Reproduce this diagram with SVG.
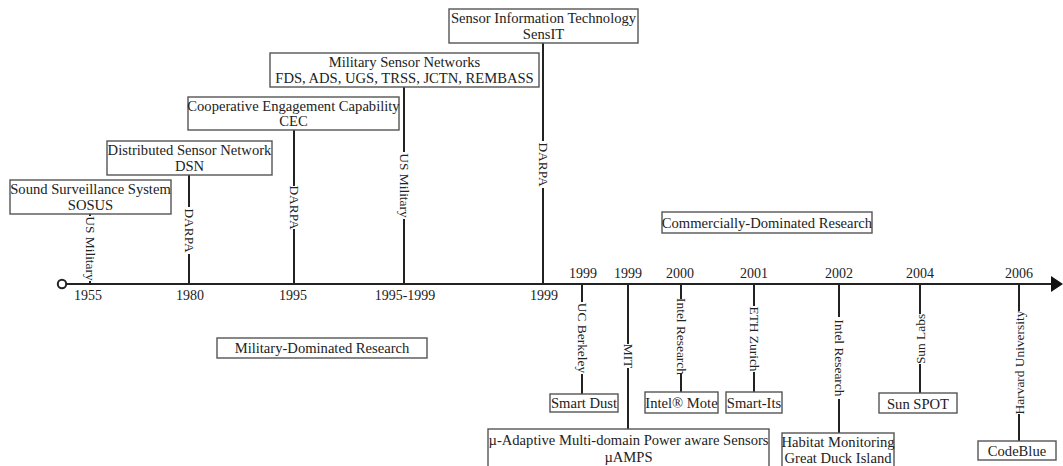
<svg xmlns="http://www.w3.org/2000/svg" width="1063" height="466" viewBox="0 0 1063 466">
<style>
.bx{fill:#fff;stroke:#555;stroke-width:1.4}
.t{font-family:"Liberation Serif","Times New Roman",serif;font-size:14.6px;fill:#222;text-anchor:middle}
.y{font-family:"Liberation Serif","Times New Roman",serif;font-size:14px;fill:#222;text-anchor:middle}
.v{font-family:"Liberation Serif","Times New Roman",serif;font-size:13.4px;fill:#222;text-anchor:middle;dominant-baseline:central}
.ln{stroke:#222;stroke-width:2;fill:none}
</style>
<rect width="1063" height="466" fill="#fff"/>
<g id="connectors">
<line class="ln" x1="66" y1="284" x2="1053" y2="284"/>
<polygon points="1051,276 1063,284 1051,292" fill="#111"/>
<circle cx="62" cy="284" r="4.2" fill="#fff" stroke="#222" stroke-width="2"/>
<path class="ln" d="M90 214V216M90 281V284"/>
<path class="ln" d="M189 175V207M189 254V284"/>
<path class="ln" d="M294 130V186M294 229V284"/>
<path class="ln" d="M404 87V152M404 219V284"/>
<path class="ln" d="M543 43V141M543 188V284"/>
<path class="ln" d="M582 284V302M582 374V394"/>
<path class="ln" d="M628 284V344M628 368V429"/>
<path class="ln" d="M681 284V299M681 374V392"/>
<path class="ln" d="M754 284V306M754 372V392"/>
<path class="ln" d="M839 284V317M839 399V433"/>
<path class="ln" d="M920 284V314M920 364V393"/>
<path class="ln" d="M1019 284V311M1019 414V441"/>
<text class="v" transform="translate(90 248.5) rotate(90)">US Military</text>
<text class="v" transform="translate(189 230.5) rotate(90)">DARPA</text>
<text class="v" transform="translate(294 207.5) rotate(90)">DARPA</text>
<text class="v" transform="translate(404 185.5) rotate(90)">US Military</text>
<text class="v" transform="translate(543 164.5) rotate(90)">DARPA</text>
<text class="v" transform="translate(582 338) rotate(90)">UC Berkeley</text>
<text class="v" transform="translate(628 356) rotate(90)">MIT</text>
<text class="v" transform="translate(681 336.5) rotate(90)">Intel Research</text>
<text class="v" transform="translate(754 339) rotate(90)">ETH Zurich</text>
<text class="v" transform="translate(839 358) rotate(90)">Intel Research</text>
<text class="v" transform="translate(920 339) rotate(-90)">Sun Labs</text>
<text class="v" transform="translate(1019 362.5) rotate(-90)">Harvard University</text>
</g>
<g id="years">
<text class="y" x="88" y="300">1955</text>
<text class="y" x="190" y="300">1980</text>
<text class="y" x="293" y="300">1995</text>
<text class="y" x="405" y="300">1995-1999</text>
<text class="y" x="544" y="300">1999</text>
<text class="y" x="583" y="278">1999</text>
<text class="y" x="628" y="278">1999</text>
<text class="y" x="680" y="278">2000</text>
<text class="y" x="754" y="278">2001</text>
<text class="y" x="839" y="278">2002</text>
<text class="y" x="920" y="278">2004</text>
<text class="y" x="1019" y="278">2006</text>
</g>
<g id="sosus">
<rect class="bx" x="10" y="180" width="161" height="34"/>
<text class="t" x="90.5" y="193.5">Sound Surveillance System</text>
<text class="t" x="90.5" y="209.5">SOSUS</text>
</g>
<g id="dsn">
<rect class="bx" x="107" y="141" width="165" height="34"/>
<text class="t" x="189.5" y="154.5">Distributed Sensor Network</text>
<text class="t" x="189.5" y="170.5">DSN</text>
</g>
<g id="cec">
<rect class="bx" x="188" y="97" width="211" height="33"/>
<text class="t" x="293.5" y="110.5">Cooperative Engagement Capability</text>
<text class="t" x="293.5" y="126">CEC</text>
</g>
<g id="msn">
<rect class="bx" x="270" y="53" width="269" height="34"/>
<text class="t" x="404.5" y="67">Military Sensor Networks</text>
<text class="t" x="404.5" y="83">FDS, ADS, UGS, TRSS, JCTN, REMBASS</text>
</g>
<g id="sensit">
<rect class="bx" x="449" y="9" width="189" height="34"/>
<text class="t" x="543.5" y="22.5">Sensor Information Technology</text>
<text class="t" x="543.5" y="38.5">SensIT</text>
</g>
<g id="military-research">
<rect class="bx" x="217" y="338" width="210" height="20"/>
<text class="t" x="322" y="353">Military-Dominated Research</text>
</g>
<g id="commercial-research">
<rect class="bx" x="662" y="212" width="210" height="21"/>
<text class="t" x="767" y="227.5">Commercially-Dominated Research</text>
</g>
<g id="smart-dust">
<rect class="bx" x="550" y="394" width="68" height="18"/>
<text class="t" x="584" y="408">Smart Dust</text>
</g>
<g id="intel-mote">
<rect class="bx" x="645" y="392" width="73" height="21"/>
<text class="t" x="681.5" y="408">Intel® Mote</text>
</g>
<g id="smart-its">
<rect class="bx" x="726" y="392" width="56" height="21"/>
<text class="t" x="754" y="408">Smart-Its</text>
</g>
<g id="uamps">
<rect class="bx" x="488" y="429" width="281" height="40"/>
<text class="t" x="628.5" y="445">µ-Adaptive Multi-domain Power aware Sensors</text>
<text class="t" x="628.5" y="462">µAMPS</text>
</g>
<g id="habitat">
<rect class="bx" x="782" y="433" width="112" height="36"/>
<text class="t" x="838" y="447">Habitat Monitoring</text>
<text class="t" x="838" y="463">Great Duck Island</text>
</g>
<g id="sun-spot">
<rect class="bx" x="879" y="393" width="78" height="20"/>
<text class="t" x="918" y="408.5">Sun SPOT</text>
</g>
<g id="codeblue">
<rect class="bx" x="978" y="441" width="78" height="19"/>
<text class="t" x="1017" y="456">CodeBlue</text>
</g>
</svg>
